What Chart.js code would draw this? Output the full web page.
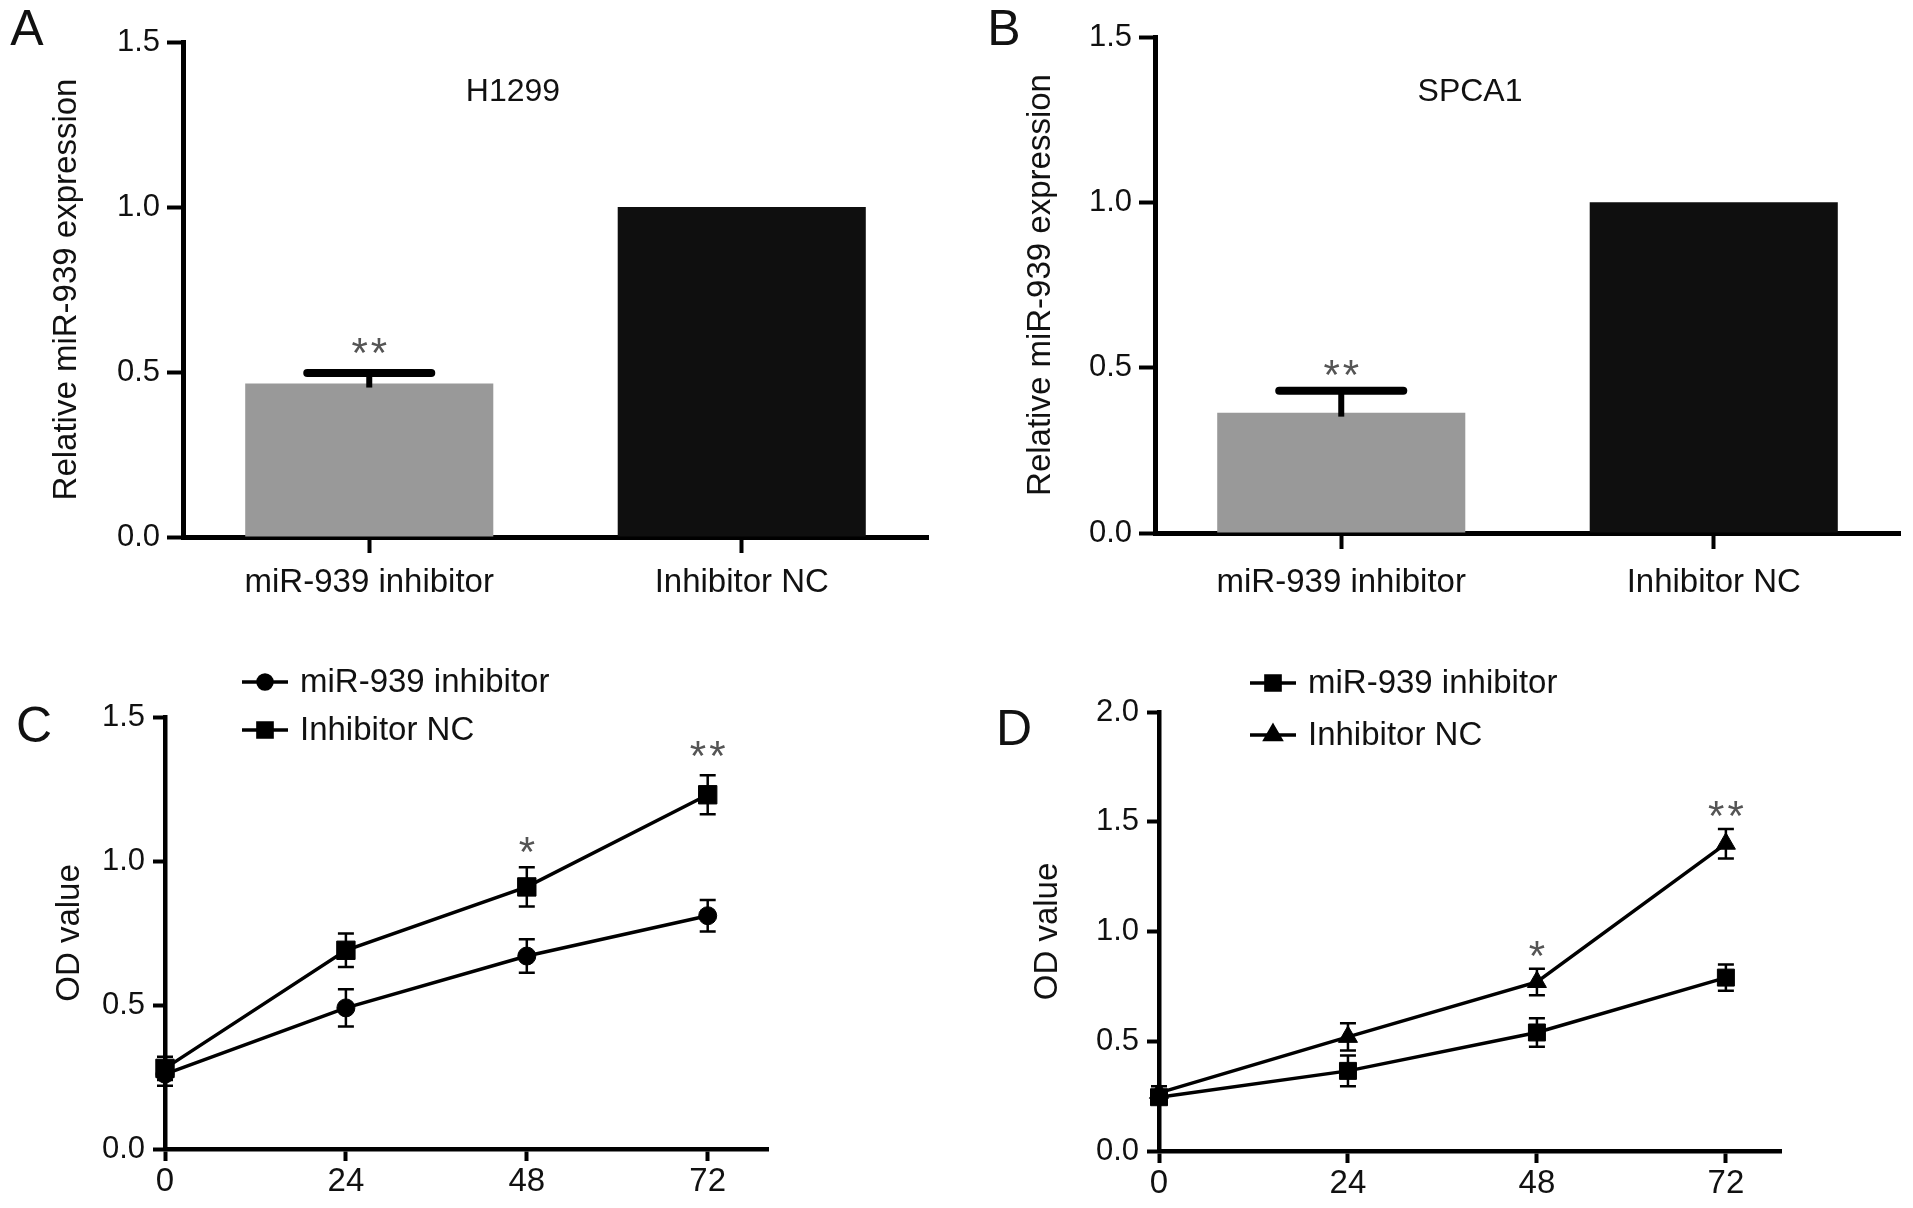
<!DOCTYPE html>
<html>
<head>
<meta charset="utf-8">
<script src="https://cdn.jsdelivr.net/npm/chart.js@4.4.1/dist/chart.umd.min.js"></script>
<style>
body{margin:0;background:#fff;width:1913px;height:1208px;position:relative;overflow:hidden}
canvas{position:absolute}
</style>
</head>
<body>
<canvas id="cA" width="960" height="620" style="left:0;top:0"></canvas>
<canvas id="cB" width="953" height="620" style="left:960px;top:0"></canvas>
<canvas id="cC" width="960" height="588" style="left:0;top:620px"></canvas>
<canvas id="cD" width="953" height="588" style="left:960px;top:620px"></canvas>
<script>
// bar panels (A, B)
const barLabels = ['miR-939 inhibitor', 'Inhibitor NC'];
const h1299Values = [0.465, 1.0];
const h1299Errors = [0.032, 0];
const spca1Values = [0.364, 1.0];
const spca1Errors = [0.066, 0];
const barTicks = [0, 0.5, 1.0, 1.5];
const starsA = [{x: 0, y: 0.58, text: '**'}];
const starsB = [{x: 0, y: 0.50, text: '**'}];

// line panels (C, D)
const hours = [0, 24, 48, 72];
const cInhibitor = [0.26, 0.49, 0.67, 0.81];
const cInhibitorErr = [0.04, 0.065, 0.058, 0.055];
const cNC = [0.28, 0.69, 0.91, 1.23];
const cNCErr = [0.04, 0.058, 0.068, 0.068];
const dInhibitor = [0.245, 0.365, 0.54, 0.79];
const dInhibitorErr = [0.03, 0.07, 0.065, 0.06];
const dNC = [0.265, 0.52, 0.77, 1.40];
const dNCErr = [0.03, 0.062, 0.06, 0.067];
const cTicks = [0, 0.5, 1.0, 1.5];
const dTicks = [0, 0.5, 1.0, 1.5, 2.0];
const starsC = [{x: 48, y: 1.055, text: '*'}, {x: 72, y: 1.39, text: '**'}];
const starsD = [{x: 48, y: 0.92, text: '*'}, {x: 72, y: 1.56, text: '**'}];

const FONT = '"Liberation Sans", Arial, Helvetica, sans-serif';
const INK = '#111';

// error bars: bars get an upper bar only, lines get +/- with small caps
const errorBars = {
    id: 'errorBars',
    afterDatasetsDraw(chart) {
        const ctx = chart.ctx, ys = chart.scales.y;
        chart.data.datasets.forEach((ds, i) => {
            if (!ds.errors) return;
            const meta = chart.getDatasetMeta(i);
            meta.data.forEach((el, j) => {
                const err = ds.errors[j];
                if (!err) return;
                const raw = ds.data[j];
                const v = typeof raw === 'object' ? raw.y : raw;
                const top = ys.getPixelForValue(v + err);
                ctx.save();
                ctx.strokeStyle = '#000';
                if (chart.config.type === 'bar') {
                    const half = el.width / 4;
                    ctx.lineWidth = 6;
                    ctx.beginPath(); ctx.moveTo(el.x, top); ctx.lineTo(el.x, el.y + 4); ctx.stroke();
                    ctx.lineWidth = 8; ctx.lineCap = 'round';
                    ctx.beginPath(); ctx.moveTo(el.x - half, top); ctx.lineTo(el.x + half, top); ctx.stroke();
                } else {
                    const bot = ys.getPixelForValue(v - err);
                    ctx.lineWidth = 2.5;
                    ctx.beginPath();
                    ctx.moveTo(el.x, top); ctx.lineTo(el.x, bot);
                    ctx.moveTo(el.x - 8, top); ctx.lineTo(el.x + 8, top);
                    ctx.moveTo(el.x - 8, bot); ctx.lineTo(el.x + 8, bot);
                    ctx.stroke();
                }
                ctx.restore();
            });
        });
    }
};

// significance marks, placed in data units
const stars = {
    id: 'stars',
    afterDraw(chart, args, opts) {
        if (!opts.items) return;
        const ctx = chart.ctx;
        ctx.save();
        ctx.font = '42px ' + FONT;
        ctx.fillStyle = '#555';
        ctx.textAlign = 'center';
        ctx.letterSpacing = '3px';
        opts.items.forEach(s => {
            const px = chart.scales.x.getPixelForValue(s.x);
            const py = chart.scales.y.getPixelForValue(s.y);
            const m = ctx.measureText(s.text);
            ctx.fillText(s.text, px + 1.5, py + (m.actualBoundingBoxAscent - m.actualBoundingBoxDescent) / 2);
        });
        ctx.restore();
    }
};

// panel letter + in-plot title
const panelText = {
    id: 'panelText',
    afterDraw(chart, args, opts) {
        if (!opts.items) return;
        const ctx = chart.ctx;
        opts.items.forEach(t => {
            ctx.save();
            ctx.font = t.font;
            ctx.fillStyle = INK;
            ctx.textAlign = 'center';
            ctx.textBaseline = 'middle';
            ctx.fillText(t.text, t.x, t.y);
            ctx.restore();
        });
    }
};

// legend drawn above/over the plot like the original figure
const sideLegend = {
    id: 'sideLegend',
    afterDraw(chart, args, opts) {
        if (!opts.display) return;
        const ctx = chart.ctx;
        chart.data.datasets.forEach((ds, i) => {
            const y = opts.y + i * opts.gap;
            ctx.save();
            ctx.strokeStyle = '#000'; ctx.fillStyle = '#000'; ctx.lineWidth = 3.5;
            ctx.beginPath(); ctx.moveTo(opts.x, y); ctx.lineTo(opts.x + 46, y); ctx.stroke();
            Chart.helpers.drawPoint(ctx, {pointStyle: ds.pointStyle, radius: opts.radius[ds.pointStyle], rotation: 0, borderWidth: 1}, opts.x + 23, y);
            ctx.fillStyle = INK;
            ctx.font = '33px ' + FONT;
            ctx.textAlign = 'left';
            ctx.textBaseline = 'middle';
            ctx.fillText(ds.label, opts.x + 58, y + 1);
            ctx.restore();
        });
    }
};

Chart.register(errorBars, stars, panelText, sideLegend);

function axisGrid(len) {
    return {display: true, drawOnChartArea: false, tickLength: len, tickWidth: 4, tickColor: '#000'};
}

function barConfig(values, errors, starList, p) {
    return {
        type: 'bar',
        data: {
            labels: barLabels,
            datasets: [{
                data: values,
                errors: errors,
                backgroundColor: ['#999999', '#0f0f0f'],
                barPercentage: 0.666,
                categoryPercentage: 1
            }]
        },
        options: {
            responsive: false, animation: false, devicePixelRatio: 1,
            layout: {padding: p.pad},
            plugins: {
                legend: {display: false},
                tooltip: {enabled: false},
                stars: {items: starList},
                panelText: {items: p.text}
            },
            scales: {
                x: {
                    grid: Object.assign(axisGrid(16), {offset: false}),
                    border: {color: '#000', width: 5},
                    ticks: {color: INK, font: {family: FONT, size: 33}, padding: p.xPad},
                    afterFit: s => { s.height = p.xh; }
                },
                y: {
                    min: 0, max: 1.5,
                    grid: axisGrid(16),
                    border: {color: '#000', width: 5},
                    ticks: {color: INK, font: {family: FONT, size: 31}, padding: 7, callback: v => v.toFixed(1)},
                    afterBuildTicks: s => { s.ticks = barTicks.map(v => ({value: v})); },
                    afterFit: s => { s.width = p.yw; },
                    title: {display: true, text: 'Relative miR-939 expression', color: INK, font: {family: FONT, size: 33}, padding: {top: p.tPad, bottom: 0}}
                }
            }
        }
    };
}

function lineSet(label, vals, errs, style, radius) {
    return {
        label: label,
        data: hours.map((h, i) => ({x: h, y: vals[i]})),
        errors: errs,
        borderColor: '#000', backgroundColor: '#000',
        borderWidth: 3.5,
        pointStyle: style, pointRadius: radius,
        pointBackgroundColor: '#000', pointBorderColor: '#000', pointBorderWidth: 1,
        tension: 0, clip: false
    };
}

function lineConfig(sets, yMax, yTicks, xMax, starList, p) {
    return {
        type: 'line',
        data: {datasets: sets},
        options: {
            responsive: false, animation: false, devicePixelRatio: 1,
            layout: {padding: p.pad},
            plugins: {
                legend: {display: false},
                tooltip: {enabled: false},
                stars: {items: starList},
                panelText: {items: p.text},
                sideLegend: {display: true, x: p.legX, y: p.legY, gap: p.legGap, radius: {circle: 7, rect: 10, triangle: 9}}
            },
            scales: {
                x: {
                    type: 'linear', min: 0, max: xMax,
                    grid: axisGrid(12),
                    border: {color: '#000', width: 4.5},
                    ticks: {color: INK, font: {family: FONT, size: 33}, padding: 1},
                    afterBuildTicks: s => { s.ticks = hours.map(v => ({value: v})); },
                    afterFit: s => { s.height = p.xh; }
                },
                y: {
                    min: 0, max: yMax,
                    grid: axisGrid(12),
                    border: {color: '#000', width: 4.5},
                    ticks: {color: INK, font: {family: FONT, size: 31}, padding: 8, callback: v => v.toFixed(1)},
                    afterBuildTicks: s => { s.ticks = yTicks.map(v => ({value: v})); },
                    afterFit: s => { s.width = p.yw; },
                    title: {display: true, text: 'OD value', color: INK, font: {family: FONT, size: 33}, padding: {top: p.tPad, bottom: 0}}
                }
            }
        }
    };
}

new Chart(document.getElementById('cA'), barConfig(h1299Values, h1299Errors, starsA, {
    pad: {top: 42, right: 32, bottom: 0, left: 0}, yw: 183, xh: 83, xPad: 10, tPad: 47,
    text: [{text: 'A', x: 27, y: 31, font: '50px ' + FONT}, {text: 'H1299', x: 513, y: 92, font: '32px ' + FONT}]
}));

new Chart(document.getElementById('cB'), barConfig(spca1Values, spca1Errors, starsB, {
    pad: {top: 37, right: 13, bottom: 0, left: 0}, yw: 195, xh: 87, xPad: 14, tPad: 61,
    text: [{text: 'B', x: 44, y: 31, font: '50px ' + FONT}, {text: 'SPCA1', x: 510, y: 92, font: '32px ' + FONT}]
}));

new Chart(document.getElementById('cC'), lineConfig([
    lineSet('miR-939 inhibitor', cInhibitor, cInhibitorErr, 'circle', 9),
    lineSet('Inhibitor NC', cNC, cNCErr, 'rect', 13)
], 1.5, cTicks, 80, starsC, {
    pad: {top: 97, right: 192, bottom: 0, left: 0}, yw: 165, xh: 59, tPad: 50,
    legX: 242, legY: 62, legGap: 48,
    text: [{text: 'C', x: 34, y: 108, font: '50px ' + FONT}]
}));

new Chart(document.getElementById('cD'), lineConfig([
    lineSet('miR-939 inhibitor', dInhibitor, dInhibitorErr, 'rect', 12),
    lineSet('Inhibitor NC', dNC, dNCErr, 'triangle', 11)
], 2.0, dTicks, 79, starsD, {
    pad: {top: 92, right: 132, bottom: 0, left: 0}, yw: 199, xh: 57, tPad: 68,
    legX: 290, legY: 63, legGap: 52,
    text: [{text: 'D', x: 54, y: 111, font: '50px ' + FONT}]
}));
</script>
</body>
</html>
